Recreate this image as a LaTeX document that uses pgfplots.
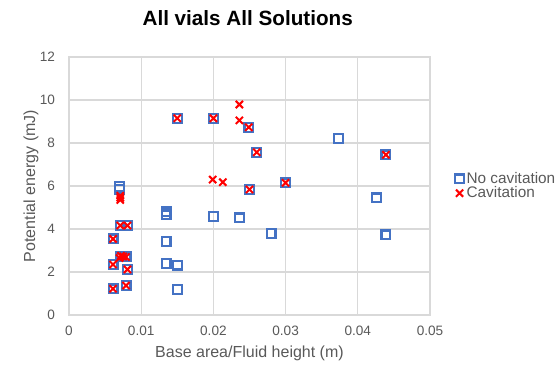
\documentclass[border=0pt]{standalone}
\usepackage{fontspec}
\setmainfont{Liberation Sans}
\usepackage{pgfplots}
\pgfplotsset{compat=1.18}
\definecolor{tickgray}{HTML}{595959}
\definecolor{gridgray}{HTML}{D9D9D9}
\definecolor{xlblue}{HTML}{4472C4}
\begin{document}
\begin{tikzpicture}
\path[use as bounding box] (-51.75pt,-37.5pt) rectangle (365.25pt,236.25pt);
\begin{axis}[
  scale only axis,
  width=270.75pt, height=193.5pt,
  at={(0,0)}, anchor=south west,
  xmin=0, xmax=0.05, ymin=0, ymax=12,
  xtick={0,0.01,0.02,0.03,0.04,0.05},
  xticklabels={0,0.01,0.02,0.03,0.04,0.05},
  ytick={0,2,4,6,8,10,12},
  scaled x ticks=false,
  /pgf/number format/assume math mode=true,
  grid=major,
  grid style={draw=gridgray, line width=0.8pt},
  axis line style={draw=gridgray, line width=0.8pt},
  major tick length=0pt,
  tick label style={font=\fontsize{10.2}{12}\selectfont, text=tickgray},
  xticklabel style={yshift=-4.5pt},
  yticklabel style={xshift=-7pt},
  xlabel={Base area/Fluid height (m)},
  ylabel={Potential energy (mJ)},
  label style={font=\fontsize{12}{14}\selectfont, text=tickgray},
  xlabel style={at={(axis description cs:0.5,-0.147)}, anchor=center},
  ylabel style={at={(axis description cs:-0.105,0.5)}, anchor=center},
  legend style={at={(1.069,0.5)}, anchor=west, draw=none, fill=none,
    font=\fontsize{11.5}{12}\selectfont, text=tickgray,
    row sep=-3pt, inner sep=0pt},
  legend cell align=left,
  legend image code/.code={\draw[#1] plot coordinates {(0.1cm,0cm)};},
  clip=false,
]
\addplot[only marks, mark=square, mark size=3.3pt, draw=xlblue, line width=1.7pt,
  mark options={solid, fill=white}] coordinates {
(0.0061,1.22) (0.0061,2.35) (0.0061,3.54) (0.0070,5.85) (0.0070,5.98)
(0.0071,4.16) (0.0081,4.16) (0.0072,2.73) (0.0079,2.70) (0.0081,2.12)
(0.0079,1.37) (0.01345,4.66) (0.01345,4.80) (0.01345,3.43) (0.01345,2.40)
(0.0150,2.32) (0.0150,1.19) (0.0150,9.15) (0.0200,9.15) (0.0200,4.57)
(0.0236,4.52) (0.0249,8.73) (0.0260,7.57) (0.0250,5.84) (0.0300,6.15)
(0.0280,3.79) (0.0373,8.22) (0.0426,5.45) (0.0439,7.45) (0.0439,3.73)
};
\addlegendentry{No cavitation}
\addplot[only marks, mark=x, mark size=3.8pt, draw=red, line width=1.5pt] coordinates {
(0.0061,1.22) (0.0061,2.35) (0.0061,3.54) (0.0071,5.35) (0.0071,5.45)
(0.0071,5.55) (0.0071,4.16) (0.0081,4.16) (0.0070,2.65) (0.0072,2.75)
(0.0075,2.72) (0.0079,2.70) (0.0081,2.12) (0.0079,1.37) (0.0150,9.15)
(0.0200,9.15) (0.0199,6.30) (0.0213,6.18) (0.0236,9.79) (0.0236,9.05)
(0.0249,8.73) (0.0260,7.57) (0.0250,5.84) (0.0300,6.15) (0.0439,7.45)
};
\addlegendentry{Cavitation}
\end{axis}
\node[font=\bfseries\fontsize{15.5}{18}\selectfont, text=black] at (134pt,222.75pt) {All vials All Solutions};
\end{tikzpicture}
\end{document}
